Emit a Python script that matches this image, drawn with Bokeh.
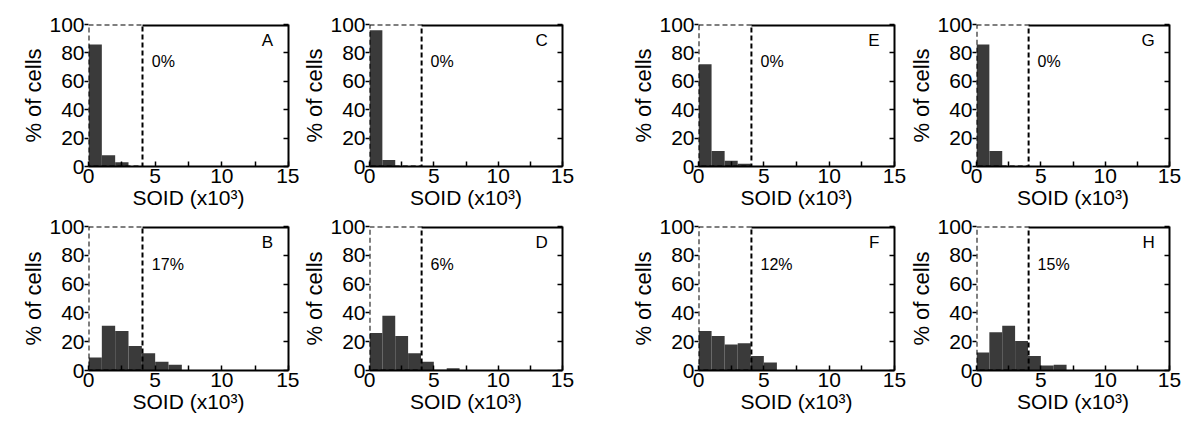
from bokeh.plotting import figure
from bokeh.layouts import column, row
from bokeh.models import FixedTicker, LinearAxis, Range1d, Label
from bokeh.embed import file_html
from bokeh.resources import INLINE

# ---- data ----
panel_letters = ["A", "B", "C", "D", "E", "F", "G", "H"]
pct_labels = ["0%", "17%", "0%", "6%", "0%", "12%", "0%", "15%"]
bin_width = 1.0
vals_A = [86, 8, 3]
vals_B = [9, 31, 27.5, 17, 12, 6, 4]
vals_C = [96, 4.5]
vals_D = [26, 38, 24, 12, 6, 0.5, 1.5]
vals_E = [72, 11, 4, 2]
vals_F = [27.5, 24, 18, 19, 10, 5.5]
vals_G = [86, 11]
vals_H = [12.5, 26.5, 31, 20.5, 10, 3.5, 4]
threshold = 4.05
x_ticks = [0, 5, 10, 15]
x_minor_ticks = [2.5, 7.5, 12.5]
y_ticks = [0, 20, 40, 60, 80, 100]
x_label = "SOID (x10³)"
y_label = "% of cells"

X_MIN, X_MAX = 0, 15
Y_MIN, Y_MAX = 0, 100
FONT = "Liberation Sans"
BAR_COLOR = "#3a3a3a"


def make_panel(vals, letter, pct, width, height, bl, br, bt, bb):
    p = figure(width=width, height=height,
               x_range=Range1d(X_MIN, X_MAX), y_range=Range1d(Y_MIN, Y_MAX),
               output_backend="svg", toolbar_location=None,
               min_border_left=bl, min_border_right=br,
               min_border_top=bt, min_border_bottom=bb,
               outline_line_color=None)
    p.xgrid.visible = False
    p.ygrid.visible = False

    edges = [i * bin_width for i in range(len(vals) + 1)]
    p.quad(left=edges[:-1], right=edges[1:], bottom=Y_MIN, top=vals,
           fill_color=BAR_COLOR, line_color=None)

    # dashed threshold box
    p.quad(left=[X_MIN], right=[threshold], bottom=[Y_MIN], top=[Y_MAX],
           fill_color=None, line_color="black", line_dash="5 3", line_width=2)
    # solid top edge right of threshold
    p.segment(x0=[threshold], x1=[X_MAX], y0=[Y_MAX], y1=[Y_MAX],
              line_color="black", line_width=4)

    xa = p.xaxis[0]
    xa.ticker = FixedTicker(ticks=x_ticks, minor_ticks=x_minor_ticks)
    xa.axis_label = x_label
    xa.major_tick_in = 5
    xa.major_tick_out = 0
    xa.minor_tick_in = 5
    xa.minor_tick_out = 0
    xa.axis_line_width = 2
    xa.major_tick_line_width = 1.5
    xa.minor_tick_line_width = 1.5
    xa.major_label_standoff = 2
    xa.axis_label_standoff = 0

    ya = p.yaxis[0]
    ya.ticker = FixedTicker(ticks=y_ticks, minor_ticks=[])
    ya.axis_label = y_label
    ya.major_tick_in = 0
    ya.major_tick_out = 4
    ya.major_tick_line_width = 1.5
    ya.axis_line_color = None
    ya.major_label_standoff = 0
    ya.axis_label_standoff = 0

    ra = LinearAxis(ticker=FixedTicker(ticks=y_ticks, minor_ticks=[]),
                    major_label_overrides={t: "" for t in y_ticks},
                    major_label_text_font_size="1px",
                    major_tick_in=5, major_tick_out=0,
                    major_tick_line_width=1.5, axis_line_width=2,
                    major_label_standoff=0)
    p.add_layout(ra, "right")

    for ax in (xa, ya):
        ax.major_label_text_font = FONT
        ax.major_label_text_font_size = "21px"
        ax.major_label_text_color = "black"
        ax.axis_label_text_font = FONT
        ax.axis_label_text_font_size = "21px"
        ax.axis_label_text_font_style = "normal"
        ax.axis_label_text_color = "black"
    ya.axis_label_text_font_size = "22px"

    p.add_layout(Label(x=4.75, y=68, text=pct, text_font=FONT,
                       text_font_size="16px", text_color="black"))
    p.add_layout(Label(x=13.85, y=82, text=letter, text_font=FONT,
                       text_font_size="17px", text_color="black",
                       text_align="right"))
    return p


all_vals = [vals_A, vals_B, vals_C, vals_D, vals_E, vals_F, vals_G, vals_H]
# column geometry: (width, border_left, border_right)
cols = [(299, 88, 11), (329, 63, 66), (278, 66, 12), (294, 63, 31)]
# row geometry: (height, border_top, border_bottom)
rows = [(214, 24, 48), (216, 12, 60)]

figs = {}
for ci in range(4):
    for ri in range(2):
        idx = ci * 2 + ri
        w, bl, br = cols[ci]
        h, bt, bb = rows[ri]
        figs[(ri, ci)] = make_panel(all_vals[idx], panel_letters[idx],
                                    pct_labels[idx], w, h, bl, br, bt, bb)

layout = column(row(*[figs[(0, c)] for c in range(4)], spacing=0),
                row(*[figs[(1, c)] for c in range(4)], spacing=0),
                spacing=0)

open("out.html", "w").write(file_html(layout, INLINE))
